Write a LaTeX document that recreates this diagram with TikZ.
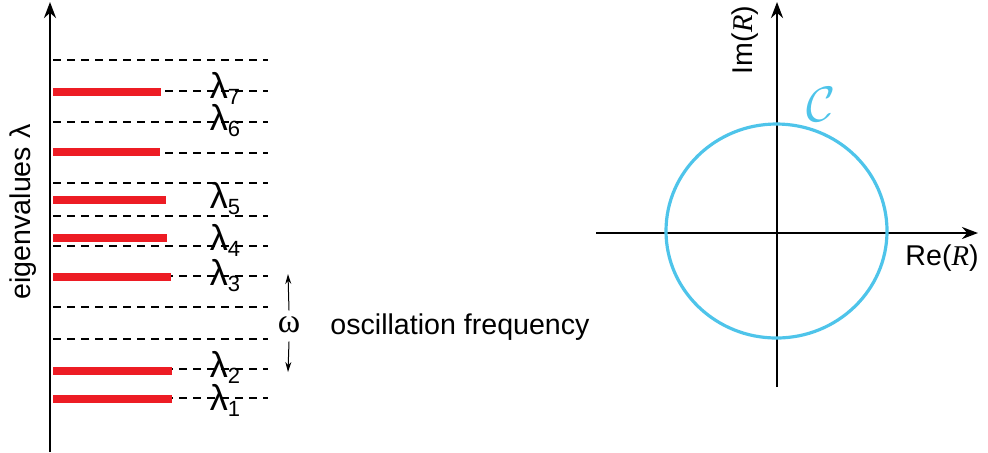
\documentclass[tikz,border=0pt]{standalone}
\usepackage{fontspec}
\setmainfont{Liberation Sans}
\newfontfamily\timesfont{Liberation Serif}
\usetikzlibrary{arrows.meta}
\definecolor{barred}{RGB}{237,28,36}
\definecolor{loopblue}{RGB}{78,196,234}

\begin{document}
\begin{tikzpicture}[
    x=0.5pt, y=-0.5pt,
    axis/.style={line width=1.4pt, -{Stealth[length=8pt, width=6pt]}},
    level/.style={line width=0.55pt, dash pattern=on 4pt off 3pt},
    bar/.style={barred, line width=4pt},
    lab/.style={font=\fontsize{18}{21}\selectfont, inner sep=0pt},
    txt/.style={font=\fontsize{14.3}{17}\selectfont, inner sep=0pt},
    gap/.style={line width=0.5pt, -{Stealth[length=5pt, width=3pt]}}
]
\useasboundingbox (0,0) rectangle (988,452);

% eigenvalue spectrum
\coordinate (base) at (50,452);
\coordinate (top) at (50,2);
\draw[axis] (base) -- (top);
\node[txt, rotate=90] (ylab) at (23,212) {eigenvalues λ};

\foreach \y in {60,91,122,153,183,216,246,276,307,339,369,398}
    \draw[level] (53,\y) -- (268,\y);
\foreach \y/\len in {92/161,152/160,200/166,238/167,277/171,371/172,399/172}
    \draw[bar] (53,\y) -- (\len,\y);

\foreach \i/\y in {7/88,6/121,5/199,4/240,3/276,2/367,1/400}
    \node[lab] (l\i) at (225,\y) {λ\raisebox{-3pt}{\fontsize{11}{11}\selectfont\i}};

% oscillation frequency
\node[inner sep=1pt, font=\fontsize{17}{18}\timesfont] (omega) at (289,325) {ω};
\coordinate (wtop) at (288,274);
\coordinate (wbot) at (288,372);
\draw[gap] (omega.north) ++(0,-4) -- (wtop);
\draw[gap] (omega.south) ++(0,6) -- (wbot);
\node[txt, anchor=west] (osc) at (330,327) {oscillation frequency};

% complex plane
\coordinate (xl) at (596,233);
\coordinate (xr) at (978,233);
\coordinate (yb) at (777,387);
\coordinate (yt) at (777,2);
\draw[axis, line width=1.3pt] (xl) -- (xr);
\draw[axis, line width=1.3pt] (yb) -- (yt);
\draw[loopblue, line width=1.6pt] (776.5,231) ellipse [x radius=110.5, y radius=107];
\node[txt, rotate=90] (imlab) at (745,40) {Im({\timesfont\itshape R})};
\node[txt] (relab) at (942,258) {Re({\timesfont\itshape R})};
\node[text=loopblue, inner sep=0pt, font=\fontsize{28}{32}\selectfont] (cont) at (821,104) {$\mathcal{C}$};
\end{tikzpicture}
\end{document}
